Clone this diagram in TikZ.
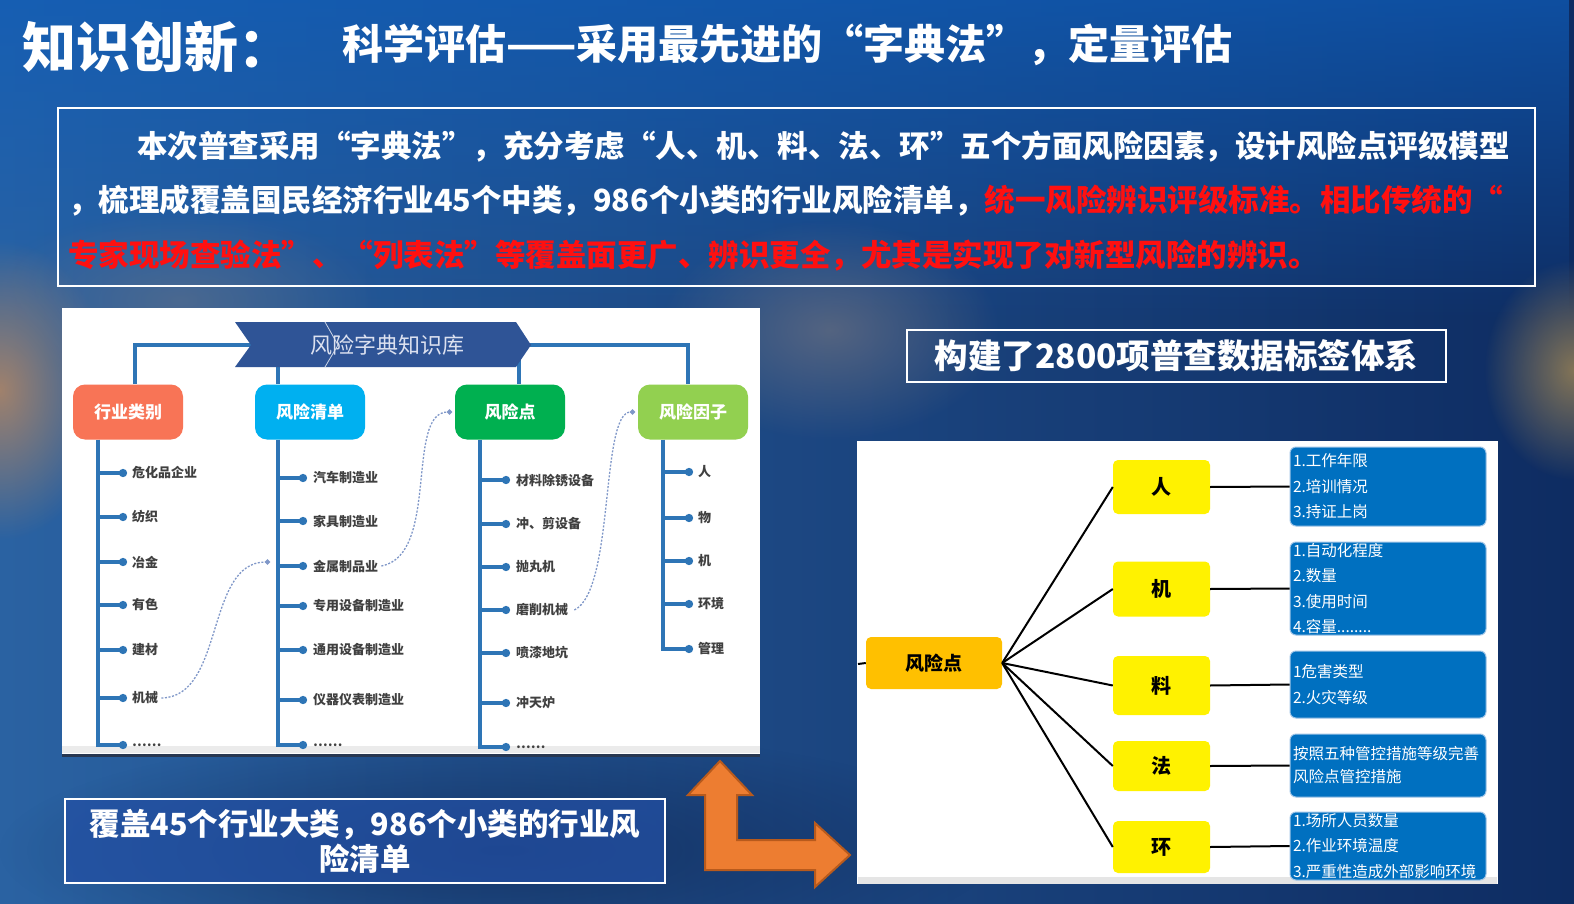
\documentclass[tikz,border=0pt]{standalone}
\usepackage{fontspec}
\setmainfont{Noto Sans CJK SC}
\usetikzlibrary{arrows.meta,fadings,calc}
\definecolor{bgL}{HTML}{2A62A2}
\definecolor{bgR}{HTML}{0E2C62}
\definecolor{topblue}{HTML}{0E5DBA}
\definecolor{trunkblue}{HTML}{2E75B6}
\definecolor{curveblue}{HTML}{7F97C8}
\definecolor{bannerblue}{HTML}{2F5496}
\definecolor{catA}{HTML}{F87456}
\definecolor{catB}{HTML}{00B0F0}
\definecolor{catC}{HTML}{00B050}
\definecolor{catD}{HTML}{92D050}
\definecolor{boxblue}{HTML}{0070C0}
\definecolor{boxedge}{HTML}{9DC3E6}
\definecolor{rpgold}{HTML}{FFC000}
\definecolor{arrowor}{HTML}{ED7D31}
\definecolor{arrowedge}{HTML}{B85A1C}
\definecolor{redtxt}{HTML}{FF1010}
\tikzfading[name=topfade, top color=transparent!0, bottom color=transparent!100]
\tikzfading[name=glow, inner color=transparent!0, outer color=transparent!100]
\begin{document}
\begin{tikzpicture}[x=1pt,y=-1pt,
  titletxt/.style={anchor=west, inner sep=0pt, text=white, font=\fontsize{54}{54}\selectfont\bfseries},
  subtxt/.style={anchor=west, inner sep=0pt, text=white, font=\fontsize{41}{41}\selectfont\bfseries},
  paratxt/.style={anchor=west, inner sep=0pt, text=white, font=\fontsize{30.5}{30.5}\selectfont\bfseries},
  frame/.style={draw=white, line width=1.8pt},
  cat/.style={minimum width=110pt, minimum height=55pt, inner sep=0pt, rounded corners=12pt, text=white, font=\fontsize{17}{17}\selectfont\bfseries},
  item/.style={anchor=west, inner sep=0pt, font=\fontsize{13}{13}\selectfont\bfseries, text=black!75},
  trunk/.style={draw=trunkblue, line width=4pt},
  br/.style={trunk, -{Circle[length=8pt,width=8pt]}},
  dcurve/.style={draw=curveblue, line width=1.3pt, dash pattern=on 2pt off 1.6pt, -{Circle[length=5pt,width=5pt]}},
  yel/.style={fill=yellow, rounded corners=5pt, minimum width=97pt, inner sep=0pt, font=\fontsize{20}{20}\selectfont\bfseries},
  bbox/.style={fill=boxblue, draw=boxedge, line width=1pt, rounded corners=6pt, text=white, text width=190pt, align=left, inner xsep=3pt, inner ysep=0pt, font=\fontsize{15.5}{25.5}\selectfont},
  blk/.style={draw=black, line width=2pt}
]
\useasboundingbox (0,0) rectangle (1574,904);
% ---------- background ----------
\shade[left color=bgL, right color=bgR] (0,0) rectangle (1574,904);
\fill[topblue, path fading=topfade, fill opacity=0.7] (0,0) rectangle (1574,320);
\fill[color={rgb,255:red,200;green,140;blue,90}, path fading=glow, fill opacity=0.75] (0,390) ellipse (110pt and 150pt);
\fill[color={rgb,255:red,210;green,165;blue,80}, path fading=glow, fill opacity=0.6] (1574,370) ellipse (90pt and 110pt);
\fill[color={rgb,255:red,140;green,130;blue,130}, path fading=glow, fill opacity=0.5] (830,330) ellipse (170pt and 110pt);
\fill[color={rgb,255:red,120;green,120;blue,130}, path fading=glow, fill opacity=0.45] (180,300) ellipse (200pt and 90pt);
\fill[color={rgb,255:red,10;green,25;blue,65}, path fading=glow, fill opacity=0.5] (500,850) ellipse (500pt and 120pt);

% ---------- titles ----------
\node[titletxt] (title) at (22,47) {知识创新：};
\node[subtxt] (sub) at (342,45) {科学评估——采用最先进的“字典法”，定量评估};

% ---------- paragraph box ----------
\draw[frame] (58,108) rectangle (1535,286);
\node[paratxt] (p1) at (137,147) {本次普查采用“字典法”，充分考虑“人、机、料、法、环”五个方面风险因素，设计风险点评级模型};
\node[paratxt] (p2) at (68,201) {，梳理成覆盖国民经济行业45个中类，986个小类的行业风险清单，\textcolor{redtxt}{统一风险辨识评级标准。相比传统的“}};
\node[paratxt, text=redtxt] (p3) at (68,256) {专家现场查验法”、“列表法”等覆盖面更广、辨识更全，尤其是实现了对新型风险的辨识。};

% ---------- left panel ----------
\fill[white] (62,308) rectangle (760,756);
\fill[black!8] (62,746) rectangle (760,753);
\draw[color={rgb,255:red,40;green,55;blue,80}, line width=3pt] (62,755) -- (760,755);

\node[cat, fill=catA] (c1) at (128,412) {行业类别};
\node[cat, fill=catB] (c2) at (310,412) {风险清单};
\node[cat, fill=catC] (c3) at (510,412) {风险点};
\node[cat, fill=catD] (c4) at (693,412) {风险因子};

\coordinate (bl) at (252,345);
\coordinate (bra) at (526,345);
\draw[trunk] (bl) -| (c1.north -| 135,0);
\draw[trunk] (bra) -| (c4.north -| 688,0);
\draw[trunk] (278,360) -- (c2.north -| 278,0);
\draw[trunk] (519,360) -- (c3.north -| 519,0);
\fill[bannerblue] (235,322) -- (516,322) -- (531,345) -- (516,367) -- (235,367) -- (251,345) -- cycle;
\draw[white!75!bannerblue, line width=0.8pt] (325,322) -- (338,345) -- (325,367);
\node[text={rgb,255:red,220;green,225;blue,240}, font=\fontsize{22}{22}\selectfont] (kb) at (387,345) {风险字典知识库};

% column 1
\draw[trunk] (c1.south -| 98,0) -- (98,745) -- (101,745);
\foreach \y/\t [count=\i] in {473/危化品企业,517/纺织,562/冶金,605/有色,650/建材,698/机械,745/……}{
  \node[item] (a\i) at (132,\y) {\t};
  \draw[br] (96,\y) -- ([xshift=-5pt]a\i.west);
}
% column 2
\draw[trunk] (c2.south -| 278,0) -- (278,745);
\foreach \y/\t [count=\i] in {478/汽车制造业,521/家具制造业,566/金属制品业,606/专用设备制造业,650/通用设备制造业,700/仪器仪表制造业,745/……}{
  \node[item] (b\i) at (313,\y) {\t};
  \draw[br] (276,\y) -- ([xshift=-6pt]b\i.west);
}
% column 3
\draw[trunk] (c3.south -| 480,0) -- (480,747);
\foreach \y/\t [count=\i] in {480/材料除锈设备,524/冲、剪设备,567/抛丸机,610/磨削机械,653/喷漆地坑,703/冲天炉,747/……}{
  \node[item] (d\i) at (516,\y) {\t};
  \draw[br] (478,\y) -- ([xshift=-6pt]d\i.west);
}
% column 4
\draw[trunk] (c4.south -| 663,0) -- (663,649);
\foreach \y/\t [count=\i] in {472/人,518/物,561/机,604/环境,649/管理}{
  \node[item] (f\i) at (698,\y) {\t};
  \draw[br] (661,\y) -- ([xshift=-5pt]f\i.west);
}
% dashed links
\draw[dcurve] ([xshift=3pt]a6.east) .. controls (225,697) and (205,562) .. (270,562);
\draw[dcurve] ([xshift=3pt]b3.east) .. controls (440,555) and (405,412) .. (452,412);
\draw[dcurve] ([xshift=6pt]d4.east) .. controls (615,590) and (600,412) .. (635,412);

% ---------- tag title ----------
\node[draw=white, line width=1.8pt, minimum width=539pt, minimum height=52pt, inner sep=0pt, text=white, font=\fontsize{33.5}{33.5}\selectfont\bfseries] (tag) at (1176.5,356) {构建了2800项普查数据标签体系};

% ---------- bottom-left box ----------
\node[draw=white, line width=1.8pt, fill={rgb,255:red,35;green,80;blue,165}, fill opacity=0.7, text opacity=1, minimum width=600pt, minimum height=84pt, inner sep=0pt, text=white, align=center, font=\fontsize{30.5}{35}\selectfont\bfseries] (cover) at (365,841) {覆盖45个行业大类，986个小类的行业风\\险清单};

% ---------- orange arrow ----------
\draw[fill=arrowor, draw=arrowedge, line width=2pt, line join=miter]
 (720,761) -- (752,795) -- (737,795) -- (737,840) -- (815,840) -- (815,823) -- (850,855) -- (815,887) -- (815,870) -- (705,870) -- (705,795) -- (688,795) -- cycle;

% ---------- right panel ----------
\fill[white] (857,441) rectangle (1498,884);
\fill[black!10] (858,877) rectangle (1497,884);
\node[fill=rpgold, rounded corners=5pt, minimum width=136pt, minimum height=52pt, inner sep=0pt, font=\fontsize{19}{19}\selectfont\bfseries] (rp) at (934,663) {风险点};
\coordinate (stub) at (858,664);
\draw[blk] (stub) -- (rp.west);

\node[yel, minimum height=54pt] (y1) at (1161.5,487) {人};
\node[yel, minimum height=55pt] (y2) at (1161.5,589) {机};
\node[yel, minimum height=59pt] (y3) at (1161.5,685.5) {料};
\node[yel, minimum height=50pt] (y4) at (1161.5,766) {法};
\node[yel, minimum height=52pt] (y5) at (1161.5,847) {环};

\node[bbox, minimum height=79pt] (k1) at (1388,486.5) {1.工作年限\\2.培训情况\\3.持证上岗};
\node[bbox, minimum height=93pt] (k2) at (1388,588.5) {1.自动化程度\\2.数量\\3.使用时间\\4.容量........};
\node[bbox, minimum height=67pt] (k3) at (1388,684.5) {1危害类型\\2.火灾等级};
\node[bbox, minimum height=63pt, font=\fontsize{15.5}{23}\selectfont] (k4) at (1388,765.5) {按照五种管控措施等级完善\\风险点管控措施};
\node[bbox, minimum height=68pt] (k5) at (1388,846) {1.场所人员数量\\2.作业环境温度\\3.严重性造成外部影响环境};

\foreach \i in {1,...,5}{
  \draw[blk] (rp.east) -- (y\i.west);
  \draw[blk] (y\i.east) -- (k\i.west);
}
\end{tikzpicture}
\end{document}
